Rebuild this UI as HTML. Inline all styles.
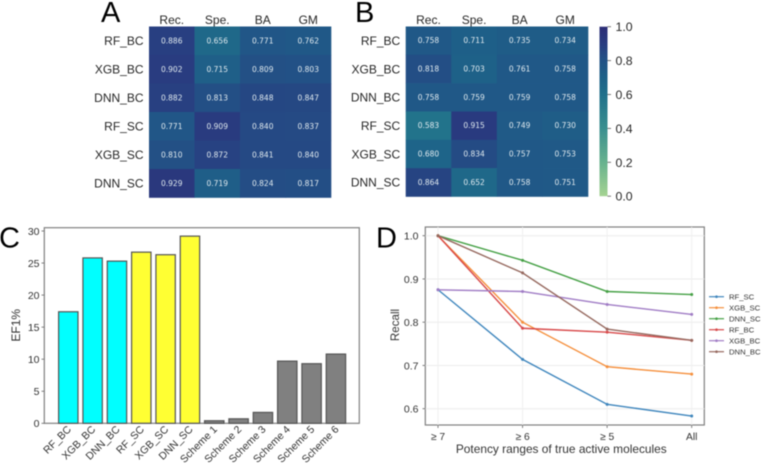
<!DOCTYPE html>
<html>
<head>
<meta charset="utf-8">
<style>
html,body{margin:0;padding:0;background:#fff;width:762px;height:464px;overflow:hidden}
svg{display:block;filter:blur(0.5px)}
text{font-family:"Liberation Sans",sans-serif}
.hv{font-family:"DejaVu Sans",sans-serif;font-size:7.5px;fill:#dfe9ee;text-anchor:middle;dominant-baseline:central}
</style>
</head>
<body>
<svg id="fig" xmlns="http://www.w3.org/2000/svg" width="762" height="464" viewBox="0 0 762 464"></svg>
<script>
// Heatmaps
const hmRows = ["RF_BC", "XGB_BC", "DNN_BC", "RF_SC", "XGB_SC", "DNN_SC"];
const hmCols = ["Rec.", "Spe.", "BA", "GM"];
const hmA = [
  [0.886, 0.656, 0.771, 0.762],
  [0.902, 0.715, 0.809, 0.803],
  [0.882, 0.813, 0.848, 0.847],
  [0.771, 0.909, 0.840, 0.837],
  [0.810, 0.872, 0.841, 0.840],
  [0.929, 0.719, 0.824, 0.817]
];
const hmB = [
  [0.758, 0.711, 0.735, 0.734],
  [0.818, 0.703, 0.761, 0.758],
  [0.758, 0.759, 0.759, 0.758],
  [0.583, 0.915, 0.749, 0.730],
  [0.680, 0.834, 0.757, 0.753],
  [0.864, 0.652, 0.758, 0.751]
];
const cbTicks = [0, 0.2, 0.4, 0.6, 0.8, 1.0];
// Bar chart
const barCats = ["RF_BC", "XGB_BC", "DNN_BC", "RF_SC", "XGB_SC", "DNN_SC", "Scheme 1", "Scheme 2", "Scheme 3", "Scheme 4", "Scheme 5", "Scheme 6"];
const barVals = [17.4, 25.8, 25.3, 26.7, 26.3, 29.2, 0.4, 0.7, 1.7, 9.7, 9.3, 10.8];
const barFills = ["#00ffff", "#00ffff", "#00ffff", "#ffff33", "#ffff33", "#ffff33", "#808080", "#808080", "#808080", "#808080", "#808080", "#808080"];
const barTicks = [0, 5, 10, 15, 20, 25, 30];
// Line chart
const lineCats = ["≥ 7", "≥ 6", "≥ 5", "All"];
const lineTicks = [0.6, 0.7, 0.8, 0.9, 1.0];
const lineNames = ["RF_SC", "XGB_SC", "DNN_SC", "RF_BC", "XGB_BC", "DNN_BC"];
const lineColors = ["#3f86bd", "#f58f3c", "#45a045", "#d8494a", "#a07cc5", "#96695f"];
const rfSC = [0.875, 0.714, 0.610, 0.583];
const xgbSC = [1.0, 0.800, 0.697, 0.680];
const dnnSC = [1.0, 0.943, 0.871, 0.864];
const rfBC = [1.0, 0.786, 0.777, 0.758];
const xgbBC = [0.875, 0.871, 0.841, 0.818];
const dnnBC = [1.0, 0.914, 0.784, 0.758];
const lineSeries = [rfSC, xgbSC, dnnSC, rfBC, xgbBC, dnnBC];

const NS = "http://www.w3.org/2000/svg";
const fig = document.getElementById("fig");
function mk(tag, attrs, txt) {
  const e = document.createElementNS(NS, tag);
  for (const k in attrs) e.setAttribute(k, attrs[k]);
  if (txt !== undefined) e.textContent = txt;
  fig.appendChild(e);
  return e;
}
const stops = [
  [0.0, [165, 211, 146]], [0.2, [103, 178, 142]], [0.4, [58, 143, 143]],
  [0.6, [32, 112, 139]], [0.7, [30, 97, 136]], [0.8, [34, 82, 134]],
  [0.9, [41, 60, 128]], [1.0, [44, 45, 118]]
];
function cmap(v) {
  for (let i = 1; i < stops.length; i++) {
    if (v <= stops[i][0]) {
      const a = stops[i - 1], b = stops[i], t = (v - a[0]) / (b[0] - a[0]);
      const c = a[1].map((x, j) => Math.round(x + (b[1][j] - x) * t));
      return "rgb(" + c.join(",") + ")";
    }
  }
  return "rgb(44,45,118)";
}
let el;

// Panel letters
[["A", 101, 22], ["B", 355, 22], ["C", -1, 247.5], ["D", 376, 247.5]].forEach(function (p) {
  el = mk("text", { x: p[1], y: p[2], "font-size": 29, fill: "#000" }, p[0]);
  
  
});

function heatmap(name, data, x0, x1, y0, y1) {
  const cw = (x1 - x0) / hmCols.length, ch = (y1 - y0) / hmRows.length;
  data.forEach(function (row, r) {
    row.forEach(function (v, c) {
      el = mk("rect", { x: x0 + c * cw, y: y0 + r * ch, width: cw + 0.3, height: ch + 0.3, fill: cmap(v) });
      
      
      el = mk("text", { x: x0 + (c + 0.5) * cw, y: y0 + (r + 0.5) * ch, class: "hv" }, v.toFixed(3));
      
      
    });
  });
  hmCols.forEach(function (t, c) {
    el = mk("text", { x: x0 + (c + 0.5) * cw, y: 24, "font-size": 12, "text-anchor": "middle", fill: "#262626" }, t);
    
    
  });
  hmRows.forEach(function (t, r) {
    el = mk("text", { x: x0 - 5.5, y: y0 + (r + 0.5) * ch + 4.4, "font-size": 12, "text-anchor": "end", fill: "#262626" }, t);
    
    
  });
}
heatmap("heatmap-a", hmA, 149, 331, 26.5, 197.5);
heatmap("heatmap-b", hmB, 405.7, 588, 26.5, 196.5);

// Colorbar
const cbY = function (v) { return 196.2 - v * (196.2 - 26.7); };
const defs = mk("defs", {});
const grad = document.createElementNS(NS, "linearGradient");
grad.setAttribute("id", "cbg");
grad.setAttribute("x1", "0"); grad.setAttribute("y1", "1");
grad.setAttribute("x2", "0"); grad.setAttribute("y2", "0");
stops.forEach(function (s) {
  const st = document.createElementNS(NS, "stop");
  st.setAttribute("offset", s[0]);
  st.setAttribute("stop-color", "rgb(" + s[1].join(",") + ")");
  grad.appendChild(st);
});
defs.appendChild(grad);
el = mk("rect", { x: 599.5, y: cbY(1), width: 8, height: cbY(0) - cbY(1), fill: "url(#cbg)" });


cbTicks.forEach(function (v) {
  el = mk("line", { x1: 607.5, x2: 611, y1: cbY(v), y2: cbY(v), stroke: "#555", "stroke-width": 0.8 });
  
  
  el = mk("text", { x: 615.5, y: cbY(v) + 4.5, "font-size": 12.3, fill: "#262626" }, v.toFixed(1));
  
  
});

// Panel C
const cY = function (v) { return 423.3 - v * (423.3 - 231) / 30; };
const cX = function (i) { return 68.3 + i * 24.33; };
el = mk("rect", { x: 44.3, y: 227.7, width: 315, height: 195.6, fill: "#fff", stroke: "#808080", "stroke-width": 1.2 });


barTicks.forEach(function (v) {
  el = mk("line", { x1: 41.5, x2: 44.3, y1: cY(v), y2: cY(v), stroke: "#666", "stroke-width": 0.8 });
  
  
  el = mk("text", { x: 39.5, y: cY(v) + 3.8, "font-size": 10.5, "text-anchor": "end", fill: "#333" }, v);
  
  
});
barVals.forEach(function (v, i) {
  el = mk("rect", { x: cX(i) - 9.7, y: cY(v), width: 19.4, height: cY(0) - cY(v), fill: barFills[i], stroke: "#555", "stroke-width": 1.2 });
  
  
});
barCats.forEach(function (t, i) {
  const lx = cX(i) + 3.5, ly = 430;
  el = mk("text", { x: lx, y: ly, "font-size": 10.5, "text-anchor": "end", fill: "#333", transform: "rotate(-45 " + lx + " " + ly + ")" }, t);
  
  
});
el = mk("text", { x: 20, y: 325.3, "font-size": 12, "text-anchor": "middle", fill: "#333", transform: "rotate(-90 20 325.3)" }, "EF1%");



// Panel D
const dY = function (v) { return 235.7 + (1 - v) * (408.7 - 235.7) / 0.4; };
const dX = function (i) { return 438 + i * (691.7 - 438) / 3; };
el = mk("rect", { x: 425.3, y: 227, width: 279, height: 198, fill: "#fff", stroke: "#808080", "stroke-width": 1.2 });


lineTicks.forEach(function (v) {
  el = mk("line", { x1: 425.3, x2: 704.3, y1: dY(v), y2: dY(v), stroke: "#ececec", "stroke-width": 1 });
  
  
  el = mk("line", { x1: 422.5, x2: 425.3, y1: dY(v), y2: dY(v), stroke: "#666", "stroke-width": 0.8 });
  
  
  el = mk("text", { x: 418.5, y: dY(v) + 4, "font-size": 10.5, "text-anchor": "end", fill: "#333" }, v.toFixed(1));
  
  
});
lineCats.forEach(function (t, i) {
  el = mk("line", { x1: dX(i), x2: dX(i), y1: 227, y2: 425, stroke: "#f0f0f0", "stroke-width": 1 });
  
  
  el = mk("line", { x1: dX(i), x2: dX(i), y1: 425, y2: 428, stroke: "#666", "stroke-width": 0.8 });
  
  
  el = mk("text", { x: dX(i), y: 440, "font-size": 10.3, "text-anchor": "middle", fill: "#333" }, t);
  
  
});
lineSeries.forEach(function (vals, s) {
  const pts = vals.map(function (v, i) { return dX(i) + "," + dY(v); }).join(" ");
  el = mk("polyline", { points: pts, fill: "none", stroke: lineColors[s], "stroke-width": 1.4 });
  
  
  vals.forEach(function (v, i) {
    el = mk("circle", { cx: dX(i), cy: dY(v), r: 1.5, fill: lineColors[s] });
    
    
  });
});
lineNames.forEach(function (t, s) {
  const ly = 296.7 + s * 11;
  el = mk("line", { x1: 709, x2: 724, y1: ly, y2: ly, stroke: lineColors[s], "stroke-width": 1.2 });
  
  
  el = mk("circle", { cx: 716.5, cy: ly, r: 1.3, fill: lineColors[s] });
  
  
  el = mk("text", { x: 729, y: ly + 2.8, "font-size": 7.7, fill: "#333" }, t);
  
  
});
el = mk("text", { x: 561.3, y: 453, "font-size": 11.9, "text-anchor": "middle", fill: "#333" }, "Potency ranges of true active molecules");


el = mk("text", { x: 399, y: 325, "font-size": 11.6, "text-anchor": "middle", fill: "#333", transform: "rotate(-90 399 325)" }, "Recall");


</script>
</body>
</html>
